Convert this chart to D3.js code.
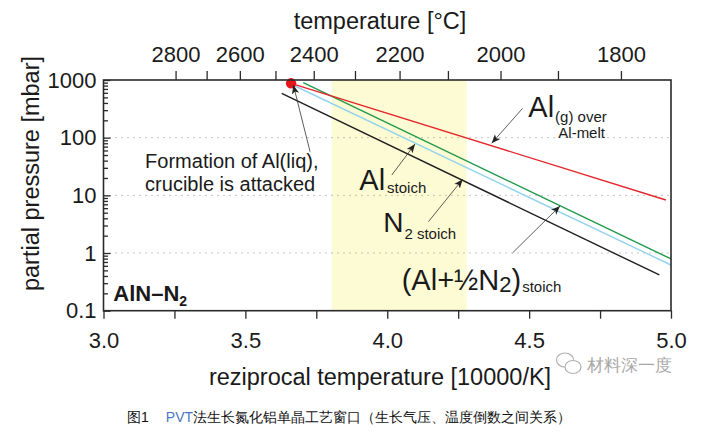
<!DOCTYPE html>
<html>
<head>
<meta charset="utf-8">
<script src="https://cdn.jsdelivr.net/npm/d3@7"></script>
<style>
  body { margin: 0; background: #fff; }
  text { font-family: "Liberation Sans", Arial, sans-serif; }
</style>
</head>
<body>
<div id="chart"></div>
<script>

// series: [1/T (10000/K), pressure (mbar)] at both ends
var redAlMelt   = [[3.661, 876], [4.982, 8.3]];
var greenLine   = [[3.704, 898], [5.0, 0.79]];
var blueLine    = [[3.675, 787], [5.0, 0.62]];
var blackLine   = [[3.628, 588], [4.959, 0.416]];
var meltPoint   = [3.661, 876];

var bandRange   = [3.804, 4.28];         // yellow process window
var xTicks      = [3.0, 3.25, 3.5, 3.75, 4.0, 4.25, 4.5, 4.75, 5.0];
var yMajor      = [0.1, 1, 10, 100, 1000];
var yGrid       = [1, 10, 100];
var tempTicks   = [2800, 2700, 2600, 2500, 2400, 2300, 2200, 2100, 2000, 1900, 1800];

// annotation arrows: [from, to] in data units
var arrows = [
  [[3.728, 57.1], [3.669, 819]],
  [[4.477, 323],  [4.368, 79.9]],
  [[4.016, 22.5], [4.098, 77.7]],
  [[4.145, 3.49], [4.266, 19.0]],
  [[4.442, 1.01], [4.609, 6.54]]
];

var width = 707, height = 436;
var pLeft = 103.5, pRight = 671, pTop = 80, pBottom = 310.7;

var svg = d3.select("#chart").append("svg")
    .attr("width", width)
    .attr("height", height);

svg.append("rect").attr("width", width).attr("height", height).attr("fill", "#fff");

var x = d3.scaleLinear().domain([3, 5]).range([pLeft, pRight]);
var y = d3.scaleLog().domain([0.1, 1000]).range([pBottom, pTop]);

// process window band
svg.append("rect")
    .attr("x", x(bandRange[0]))
    .attr("y", pTop)
    .attr("width", x(bandRange[1]) - x(bandRange[0]))
    .attr("height", pBottom - pTop)
    .attr("fill", "#fdfbd4");

// dotted grid
svg.append("g").selectAll("line")
    .data(yGrid)
    .enter().append("line")
    .attr("x1", pLeft).attr("x2", pRight)
    .attr("y1", function(d) { return y(d); })
    .attr("y2", function(d) { return y(d); })
    .attr("stroke", "#8a8a8a")
    .attr("stroke-width", 1)
    .attr("stroke-dasharray", "1,5");

// lines
var line = d3.line()
    .x(function(d) { return x(d[0]); })
    .y(function(d) { return y(d[1]); });

var series = [
  {pts: blackLine, color: "#1f1f1f"},
  {pts: blueLine,  color: "#93d3ef"},
  {pts: greenLine, color: "#1e9a4a"},
  {pts: redAlMelt, color: "#e4262c"}
];

svg.append("g").selectAll("path")
    .data(series)
    .enter().append("path")
    .attr("d", function(d) { return line(d.pts); })
    .attr("fill", "none")
    .attr("stroke", function(d) { return d.color; })
    .attr("stroke-width", 1.4);

svg.append("circle")
    .attr("cx", x(meltPoint[0]))
    .attr("cy", y(meltPoint[1]))
    .attr("r", 5.2)
    .attr("fill", "#e8141c");

// frame
svg.append("rect")
    .attr("x", pLeft).attr("y", pTop)
    .attr("width", pRight - pLeft).attr("height", pBottom - pTop)
    .attr("fill", "none")
    .attr("stroke", "#2a2a2a")
    .attr("stroke-width", 1.6);

// bottom axis
var xAxis = svg.append("g")
    .attr("transform", "translate(0," + pBottom + ")")
    .call(d3.axisBottom(x)
        .tickValues(xTicks)
        .tickSize(8)
        .tickPadding(14)
        .tickFormat(function(d) { return (Math.round(d * 100) % 50 == 0) ? d3.format(".1f")(d) : ""; }));

// top axis, temperature in °C
var xTop = svg.append("g")
    .attr("transform", "translate(0," + pTop + ")")
    .call(d3.axisTop(x)
        .tickValues(tempTicks.map(function(t) { return 10000 / (t + 273.15); }))
        .tickSize(9)
        .tickPadding(9)
        .tickFormat(function(d) {
          var t = Math.round(10000 / d - 273.15);
          return (t % 200 == 0) ? t : "";
        }));

// left axis, log, ticks inward
var minor = [];
yMajor.slice(0, 4).forEach(function(dec) {
  for (var k = 2; k <= 9; k++) minor.push(dec * k);
});

svg.append("g")
    .attr("transform", "translate(" + pLeft + ",0)")
    .call(d3.axisLeft(y).tickValues(minor).tickSize(-4.5).tickFormat(""));

var yAxis = svg.append("g")
    .attr("transform", "translate(" + pLeft + ",0)")
    .call(d3.axisLeft(y)
        .tickValues(yMajor)
        .tickSize(-7)
        .tickPadding(7)
        .tickFormat(function(d) { return d < 1 ? "0.1" : d3.format("d")(d); }));

svg.selectAll(".domain").remove();
[xAxis, xTop, yAxis].forEach(function(g) {
  g.selectAll("text").attr("font-size", 22).attr("fill", "#1a1a1a")
      .attr("font-family", "Liberation Sans, Arial, sans-serif");
});
svg.selectAll(".tick line").attr("stroke", "#2a2a2a").attr("stroke-width", 1.3);

// axis titles
svg.append("text")
    .attr("x", 380).attr("y", 28.5)
    .attr("text-anchor", "middle")
    .attr("font-size", 23.5)
    .attr("fill", "#1a1a1a")
    .text("temperature [°C]");

svg.append("text")
    .attr("x", 380).attr("y", 385)
    .attr("text-anchor", "middle")
    .attr("font-size", 23.5)
    .attr("fill", "#1a1a1a")
    .text("reziprocal temperature [10000/K]");

svg.append("text")
    .attr("transform", "translate(39,173.5) rotate(-90)")
    .attr("text-anchor", "middle")
    .attr("font-size", 23.5)
    .attr("fill", "#1a1a1a")
    .text("partial pressure [mbar]");

// arrows
svg.append("defs").append("marker")
    .attr("id", "head")
    .attr("viewBox", "0 0 10 10")
    .attr("refX", 10).attr("refY", 5)
    .attr("markerWidth", 9).attr("markerHeight", 9)
    .attr("markerUnits", "userSpaceOnUse")
    .attr("orient", "auto")
  .append("path")
    .attr("d", "M0,1 L10,5 L0,9 L2.5,5 Z")
    .attr("fill", "#222");

svg.append("g").selectAll("line")
    .data(arrows)
    .enter().append("line")
    .attr("x1", function(d) { return x(d[0][0]); })
    .attr("y1", function(d) { return y(d[0][1]); })
    .attr("x2", function(d) { return x(d[1][0]); })
    .attr("y2", function(d) { return y(d[1][1]); })
    .attr("stroke", "#333")
    .attr("stroke-width", 0.8)
    .attr("marker-end", "url(#head)");

// labels
var t1 = svg.append("text")
    .attr("x", x(3.1466)).attr("y", y(29.4))
    .attr("font-size", 20).attr("fill", "#1a1a1a");
t1.append("tspan").text("Formation of Al(liq),");
t1.append("tspan").attr("x", x(3.1466)).attr("dy", 23).text("crucible is attacked");

var t2 = svg.append("text")
    .attr("x", x(4.4971)).attr("y", y(231))
    .attr("fill", "#1a1a1a");
t2.append("tspan").attr("font-size", 29).text("Al");
t2.append("tspan").attr("font-size", 15).attr("dx", 1).attr("dy", 5).text("(g) over");
svg.append("text")
    .attr("x", x(4.4971) + 30).attr("y", y(231) + 21.5)
    .attr("font-size", 15).attr("fill", "#1a1a1a")
    .text("Al-melt");

var t3 = svg.append("text")
    .attr("x", x(3.9015)).attr("y", y(12.4))
    .attr("fill", "#1a1a1a");
t3.append("tspan").attr("font-size", 29).text("Al");
t3.append("tspan").attr("font-size", 15).attr("dx", 2).attr("dy", 3).text("stoich");

var t4 = svg.append("text")
    .attr("x", x(3.9861)).attr("y", y(2.34))
    .attr("fill", "#1a1a1a");
t4.append("tspan").attr("font-size", 28).text("N");
t4.append("tspan").attr("font-size", 15).attr("dx", 1).attr("dy", 7.5).text("2");
t4.append("tspan").attr("font-size", 15).attr("dx", 4).text("stoich");

var t5 = svg.append("text")
    .attr("x", x(4.0509)).attr("y", y(0.2286))
    .attr("fill", "#1a1a1a");
t5.append("tspan").attr("font-size", 29).text("(Al+½N");
t5.append("tspan").attr("font-size", 22).attr("dy", 2).text("2");
t5.append("tspan").attr("font-size", 29).attr("dy", -2).text(")");
t5.append("tspan").attr("font-size", 15).attr("dx", 1).attr("dy", 2).text("stoich");

var t6 = svg.append("text")
    .attr("x", x(3.0345)).attr("y", y(0.147))
    .attr("font-weight", "bold").attr("fill", "#1a1a1a");
t6.append("tspan").attr("font-size", 22).text("AlN–N");
t6.append("tspan").attr("font-size", 14).attr("dy", 5).text("2");

// watermark
var wm = svg.append("g").attr("fill", "none").attr("stroke", "#b0b0b0").attr("stroke-width", 1.2);
wm.append("ellipse").attr("cx", 565).attr("cy", 360).attr("rx", 8.5).attr("ry", 7);
wm.append("ellipse").attr("cx", 573).attr("cy", 367).attr("rx", 8).attr("ry", 6.5).attr("fill", "#fff");
svg.append("text")
    .attr("x", 587).attr("y", 371)
    .attr("font-family", "Noto Sans CJK SC")
    .attr("font-size", 16.5)
    .attr("fill", "#a8a8a8")
    .text("材料深一度");

// caption
var cap = svg.append("text")
    .attr("x", 127).attr("y", 422)
    .attr("font-family", "Noto Sans CJK SC")
    .attr("font-size", 14)
    .attr("fill", "#111");
cap.append("tspan").text("图1");
cap.append("tspan").attr("dx", 17).attr("fill", "#4a78c0").text("PVT");
cap.append("tspan").text("法生长氮化铝单晶工艺窗口（生长气压、温度倒数之间关系）");

</script>
</body>
</html>
